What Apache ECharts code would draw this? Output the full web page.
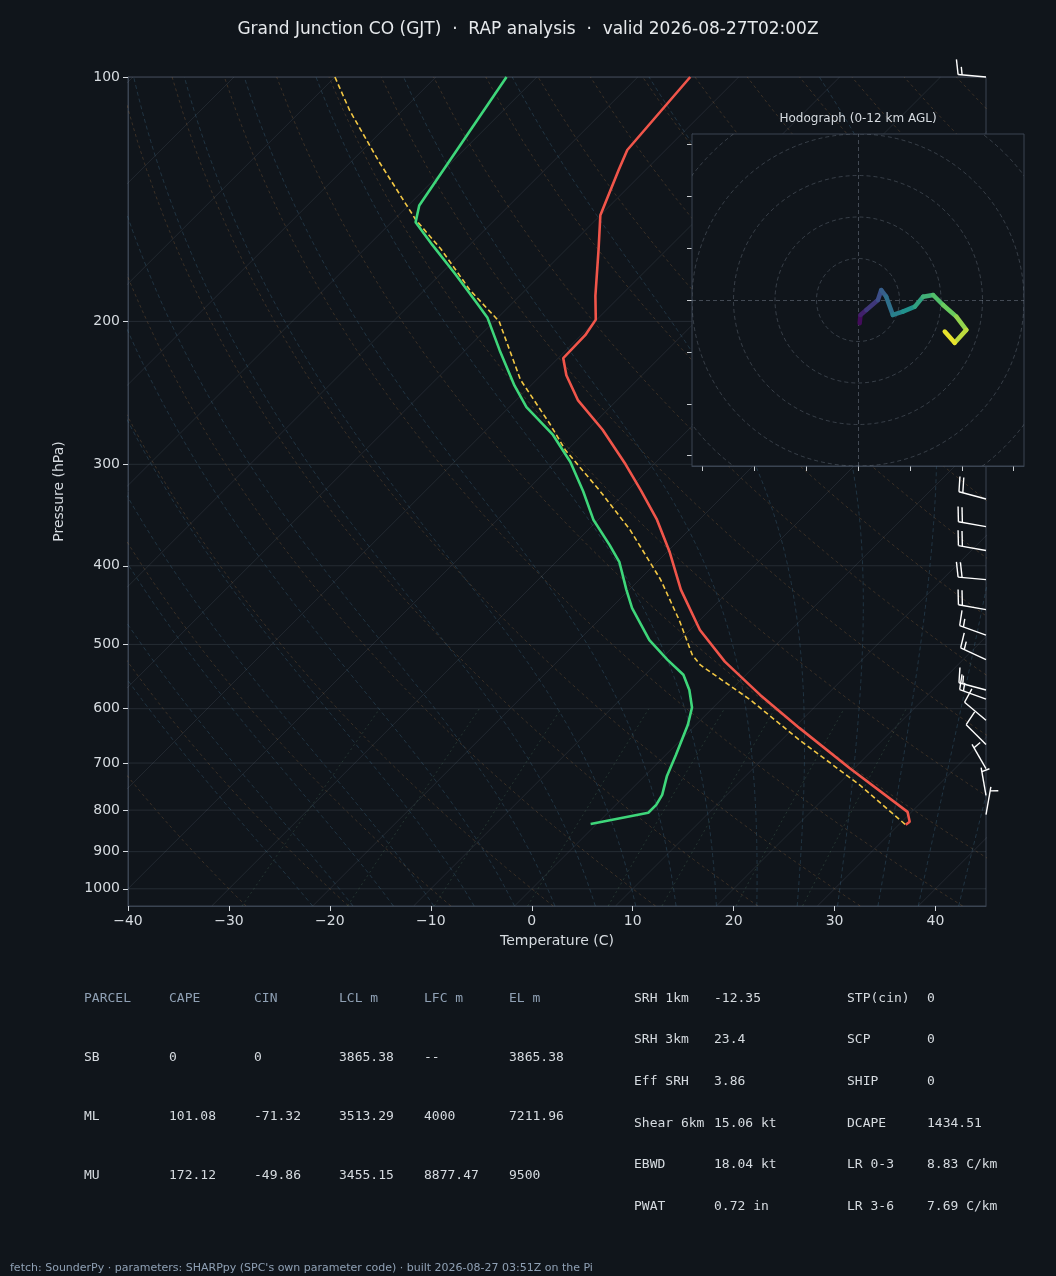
<!DOCTYPE html>
<html><head><meta charset="utf-8">
<script src="https://cdn.jsdelivr.net/npm/echarts@6/dist/echarts.min.js"></script>
<style>html,body{margin:0;padding:0;background:#10151b}#c{width:1056px;height:1276px}</style>
</head><body><div id="c"></div>
<script>
// ---- data (actual temperatures in C, pressures in hPa) ----
const tempP = [100,123,130,148,163,186,199,208,222,233,250,272,300,323,351,385,428,480,525,577,634,710,804,827,834];
const tempT = [-64.8,-63.8,-62.7,-60.0,-56.8,-52.5,-50.1,-49.6,-49.5,-47.5,-43.9,-38.5,-32.8,-28.7,-24.2,-19.7,-14.9,-9.0,-3.4,3.4,10.6,19.5,29.6,30.8,30.7];
const dewP = [100,144,151,161,175,189,198,217,240,255,276,298,324,351,377,396,428,451,494,522,545,569,598,628,684,726,766,788,806,832];
const dewT = [-83.0,-78.9,-77.6,-73.7,-68.5,-63.8,-61.0,-56.6,-51.6,-48.3,-42.9,-38.5,-34.3,-30.5,-26.4,-23.7,-20.3,-17.9,-13.0,-9.3,-6.2,-4.1,-2.1,-0.8,1.0,2.2,3.6,4.0,4.0,-0.6];
const parcelP = [100,110,127,150,163,183,200,236,268,288,323,361,416,467,515,530,585,656,745,834];
const parcelT = [-100.0,-95.2,-87.3,-77.8,-72.4,-65.5,-59.5,-51.6,-44.2,-40.2,-32.8,-25.9,-17.9,-12.0,-7.3,-5.5,2.9,11.8,22.2,30.7];
const windP = [100,331,358,383,416,453,487,522,569,584,620,664,711,767,810];
const windDir = [275,285,280,280,275,280,290,295,285,290,310,315,330,350,10];
const windSpd = [15,20,20,20,20,20,15,15,15,15,10,10,5,5,5];
const hodoU = [0.4,0.6,2.0,4.8,5.6,6.8,8.4,10.8,13.7,15.7,18.1,20.5,23.7,26.1,23.3,20.9];
const hodoV = [-5.6,-3.6,-2.4,0,2.4,0.8,-3.6,-2.8,-1.6,0.8,1.2,-1.2,-4.0,-7.2,-10.3,-7.6];
const pressureTicks = [100,200,300,400,500,600,700,800,900,1000];
const tableHead = ['PARCEL','CAPE','CIN','LCL m','LFC m','EL m'];
const tableRows = [
  ['SB','0','0','3865.38','--','3865.38'],
  ['ML','101.08','-71.32','3513.29','4000','7211.96'],
  ['MU','172.12','-49.86','3455.15','8877.47','9500']];
const paramL = [['SRH 1km','-12.35'],['SRH 3km','23.4'],['Eff SRH','3.86'],['Shear 6km','15.06 kt'],['EBWD','18.04 kt'],['PWAT','0.72 in']];
const paramR = [['STP(cin)','0'],['SCP','0'],['SHIP','0'],['DCAPE','1434.51'],['LR 0-3','8.83 C/km'],['LR 3-6','7.69 C/km']];

// ---- skew transform ----
const SKEW = 80.5;
const sx = (T,p) => T + SKEW*Math.log10(1000/p);
const prof = (P,T) => P.map((p,i)=>[sx(T[i],p),p]);

// ---- background lines ----
const bg = [];
const levels = []; for (let p=1050;p>=100;p-=10) levels.push(p);
function bgLine(pts,color,type){bg.push({type:'line',data:pts,showSymbol:false,silent:true,lineStyle:{color,width:0.8,type},z:1,animation:false});}
for (let T=-120;T<=50;T+=10) bgLine([[sx(T,1050),1050],[sx(T,100),100]],'rgba(120,135,150,0.22)','solid');
for (const p of pressureTicks) bgLine([[-40,p],[45,p]],'rgba(120,135,150,0.25)','solid');
for (let th=-30;th<=210;th+=10){const pts=levels.map(p=>[sx((th+273.15)*Math.pow(p/1000,0.2857)-273.15,p),p]);bgLine(pts,'rgba(170,120,70,0.35)',[3,3]);}
function es(T){return 6.112*Math.exp(17.67*T/(T+243.5));}
for (let T0=-20;T0<=44;T0+=4){
  let T=T0+273.15, pts=[];
  for (let p=1050;p>=100;p-=5){
    pts.push([sx(T-273.15,p),p]);
    const rs=0.622*es(T-273.15)/(p-es(T-273.15));
    const dTdp=(287*T+2.5e6*rs)/(1004+2.5e6*2.5e6*rs*0.622/(287*T*T))/p;
    T-=dTdp*5;
  }
  bgLine(pts,'rgba(70,120,150,0.4)',[4,3]);
}
for (const w of [0.4,1,2,4,7,10,16,24]){
  const pts=[];for(let p=1050;p>=600;p-=10){const e=w*p/(622+w);const l=Math.log(e/6.112);pts.push([sx(243.5*l/(17.67-l),p),p]);}
  bgLine(pts,'rgba(90,140,110,0.35)',[2,3]);
}

// viridis ramp
const VIR=[[68,1,84],[59,82,139],[33,145,140],[94,201,98],[253,231,37]];
function vir(t){t=Math.max(0,Math.min(1,t))*(VIR.length-1);const i=Math.min(VIR.length-2,Math.floor(t)),f=t-i;const c=VIR[i].map((v,k)=>Math.round(v+(VIR[i+1][k]-v)*f));return 'rgb('+c.join(',')+')';}

// ---- chart ----
const chart = echarts.init(document.getElementById('c'));
const txt = '#d6dbe0', head='#8fa0b4', mono='DejaVu Sans Mono';
const graphics = [];
tableHead.forEach((h,i)=>graphics.push({type:'text',left:84+85*i,top:992,style:{text:h,fill:head,font:'13px '+mono}}));
tableRows.forEach((r,j)=>r.forEach((v,i)=>graphics.push({type:'text',left:84+85*i,top:1051+59*j,style:{text:v,fill:txt,font:'13px '+mono}})));
paramL.forEach((r,j)=>{graphics.push({type:'text',left:634,top:992+41.6*j,style:{text:r[0],fill:txt,font:'13px '+mono}});graphics.push({type:'text',left:714,top:992+41.6*j,style:{text:r[1],fill:txt,font:'13px '+mono}});});
paramR.forEach((r,j)=>{graphics.push({type:'text',left:847,top:992+41.6*j,style:{text:r[0],fill:txt,font:'13px '+mono}});graphics.push({type:'text',left:927,top:992+41.6*j,style:{text:r[1],fill:txt,font:'13px '+mono}});});
graphics.push({type:'text',left:10,top:1263,style:{text:"fetch: SounderPy · parameters: SHARPpy (SPC's own parameter code) · built 2026-08-27 03:51Z on the Pi",fill:'#8fa0b4',font:'11px DejaVu Sans'}});
graphics.push({type:'text',x:858,y:113,z:20,style:{text:'Hodograph (0-12 km AGL)',fill:txt,font:'12px DejaVu Sans',align:'center'}});

const minus = v => String(v).replace('-','\u2212');
const hodoTicks=[-37.5,-25,-12.5,0,12.5,25,37.5];
chart.setOption({
  backgroundColor:'#10151b',
  animation:false,
  title:{text:'Grand Junction CO (GJT)  ·  RAP analysis  ·  valid 2026-08-27T02:00Z',left:'center',top:16,textStyle:{color:'#e6e9ec',fontSize:17,fontWeight:'normal',fontFamily:'DejaVu Sans'}},
  graphic:graphics,
  grid:[
    {left:128,right:70,top:77,bottom:370,show:true,borderColor:'#3a4452',backgroundColor:'#10151b'},
    {left:692,top:134,width:332,height:332,show:true,borderColor:'#3a4452',backgroundColor:'#10151b',z:5}
  ],
  xAxis:[
    {gridIndex:0,type:'value',min:-40,max:45,interval:10,name:'Temperature (C)',nameLocation:'middle',nameGap:28,nameTextStyle:{color:txt,fontSize:14,fontFamily:'DejaVu Sans'},
     axisLine:{onZero:false,lineStyle:{color:'#3a4452'}},axisTick:{show:true,lineStyle:{color:txt}},splitLine:{show:false},
     axisLabel:{color:txt,fontSize:14,fontFamily:'DejaVu Sans',showMaxLabel:false,formatter:minus}},
    {gridIndex:1,type:'value',min:-40,max:40,axisLine:{onZero:false,lineStyle:{color:'#3a4452'}},splitLine:{show:false},axisLabel:{show:false},
     axisTick:{show:true,length:5,lineStyle:{color:'#c8ccd0'},customValues:hodoTicks}}
  ],
  yAxis:[
    {gridIndex:0,type:'log',logBase:10,min:100,max:1050,inverse:true,name:'Pressure (hPa)',nameLocation:'middle',nameGap:62,nameTextStyle:{color:txt,fontSize:14,fontFamily:'DejaVu Sans'},
     axisLine:{onZero:false,lineStyle:{color:'#3a4452'}},splitLine:{show:false},
     axisTick:{show:true,customValues:pressureTicks,lineStyle:{color:txt}},
     axisLabel:{color:txt,fontSize:14,fontFamily:'DejaVu Sans',customValues:pressureTicks,formatter:v=>String(Math.round(v))}},
    {gridIndex:1,type:'value',min:-40,max:40,axisLine:{onZero:false,lineStyle:{color:'#3a4452'}},splitLine:{show:false},axisLabel:{show:false},
     axisTick:{show:true,length:5,lineStyle:{color:'#c8ccd0'},customValues:hodoTicks}}
  ],
  series:[...bg,
    {type:'line',data:prof(parcelP,parcelT),showSymbol:false,lineStyle:{color:'#f2c744',width:1.6,type:[5,3]},z:3},
    {type:'line',data:prof(tempP,tempT),showSymbol:false,lineStyle:{color:'#f0554a',width:2.6},z:4},
    {type:'line',data:prof(dewP,dewT),showSymbol:false,lineStyle:{color:'#3ed67a',width:2.6},z:4},
    {type:'custom',clip:false,z:6,data:windP.map((p,i)=>[p,windDir[i],windSpd[i]]),
     renderItem:(params,api)=>{
       const base=api.coord([45,api.value(0)]);
       const d=api.value(1)*Math.PI/180, s=api.value(2);
       const ux=Math.sin(d), uy=-Math.cos(d), L=28;
       const tip=[base[0]+ux*L,base[1]+uy*L];
       const px=-uy, py=ux;
       const ch=[{type:'line',shape:{x1:base[0],y1:base[1],x2:tip[0],y2:tip[1]},style:{stroke:'#ffffff',lineWidth:1.4}}];
       let n=Math.floor(s/10), half=(s%10)>=5, k=0;
       for(let i=0;i<n;i++,k++){const a=[tip[0]-ux*k*4,tip[1]-uy*k*4];ch.push({type:'line',shape:{x1:a[0],y1:a[1],x2:a[0]+px*15+ux*3,y2:a[1]+py*15+uy*3},style:{stroke:'#ffffff',lineWidth:1.4}});}
       if(half){if(k===0)k=1;const a=[tip[0]-ux*k*4,tip[1]-uy*k*4];ch.push({type:'line',shape:{x1:a[0],y1:a[1],x2:a[0]+px*8+ux*1.5,y2:a[1]+py*8+uy*1.5},style:{stroke:'#ffffff',lineWidth:1.4}});}
       return {type:'group',children:ch};
     }},
    {type:'custom',xAxisIndex:1,yAxisIndex:1,z:6,clip:true,data:[10,20,30,40,50,60].map(r=>[r]),
     renderItem:(params,api)=>{
       const c=api.coord([0,0]), e=api.coord([api.value(0),0]); const r=e[0]-c[0];
       const cs=params.coordSys;
       return {type:'group',clipPath:{type:'rect',shape:{x:cs.x,y:cs.y,width:cs.width,height:cs.height}},
         children:[{type:'circle',shape:{cx:c[0],cy:c[1],r},style:{fill:null,stroke:'rgba(130,140,155,0.35)',lineWidth:1,lineDash:[4,3]}}]};
     }},
    {type:'line',xAxisIndex:1,yAxisIndex:1,z:6,data:[],
     markLine:{silent:true,symbol:'none',label:{show:false},lineStyle:{color:'rgba(130,140,155,0.45)',type:[4,3],width:1},data:[{xAxis:0},{yAxis:0}]}},
    {type:'custom',xAxisIndex:1,yAxisIndex:1,z:7,data:hodoU.map((u,i)=>[u,hodoV[i]]),
     renderItem:(params,api)=>{
       const i=params.dataIndex; if(i===0) return null;
       const a=api.coord([hodoU[i-1],hodoV[i-1]]), b=api.coord([hodoU[i],hodoV[i]]);
       return {type:'line',shape:{x1:a[0],y1:a[1],x2:b[0],y2:b[1]},style:{stroke:vir((i-0.5)/(hodoU.length-1)),lineWidth:4.5,lineCap:'round'}};
     }}
  ]
});
</script></body></html>
